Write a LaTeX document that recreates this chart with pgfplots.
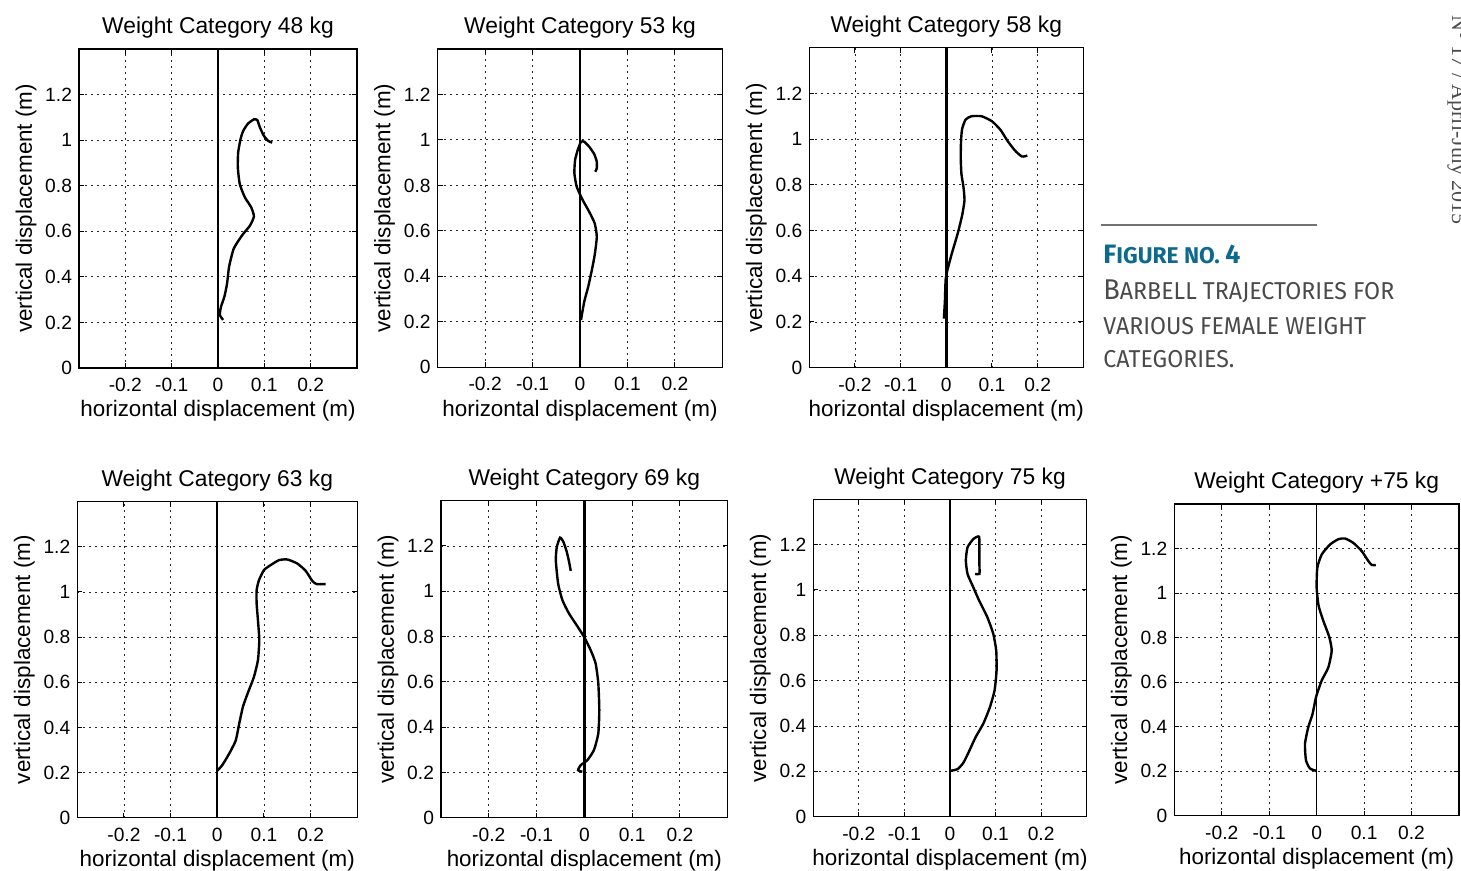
\documentclass[border=0pt]{standalone}
\usepackage{pgfplots}
\pgfplotsset{compat=1.18}
\usepackage{fontspec}
\setmainfont{Liberation Sans}
\newfontfamily\capfont[FakeStretch=0.95]{Fira Sans}
\newfontfamily\capfontb{Fira Sans}
\newfontfamily\sidefont{Liberation Serif}
\definecolor{figteal}{HTML}{0E6A8C}
\definecolor{capgray}{HTML}{4A4A4A}
\newcommand\bigc[1]{{\fontsize{14.3}{16}\selectfont #1}}
\newcommand\bigb[1]{{\fontsize{13.3}{16}\selectfont #1}}

\pgfplotsset{
  wplot/.style={
    scale only axis, anchor=south west,
    xmin=-0.3, xmax=0.3, ymin=0, ymax=1.4,
    xtick={-0.2,-0.1,0,0.1,0.2}, xticklabels={-0.2,-0.1,0,0.1,0.2},
    ytick={0,0.2,0.4,0.6,0.8,1,1.2}, yticklabels={0,0.2,0.4,0.6,0.8,1,1.2},
    grid=major, major grid style={black!85, line width=0.45pt, dash pattern=on 0.9pt off 2.1pt},
    axis line style={black, line width=0.6pt},
    tick align=inside, major tick length=2.5pt, tick style={black, line width=0.5pt},
    ticklabel style={font=\fontsize{9.6}{11}\selectfont},
    xticklabel style={yshift=-1.5pt},
    label style={font=\fontsize{11.2}{13}\selectfont},
    xlabel={horizontal displacement (m)}, ylabel={vertical displacement (m)},
    xlabel style={at={([yshift=-21.5pt]axis description cs:0.5,0)}, anchor=center},
    ylabel style={at={([xshift=-26.5pt]axis description cs:0,0.5)}, anchor=center},
    title style={font=\fontsize{11.4}{13}\selectfont, at={([yshift=4.5pt]axis description cs:0.5,1)}, anchor=center},
  },
  zero/.style={black, line width=1.2pt},
  traj/.style={black, line width=1.2pt, smooth, tension=0.35},
}

\begin{document}
\begin{tikzpicture}
\useasboundingbox (0,0) rectangle (730.5pt,435.5pt);

% top row
\begin{axis}[wplot, at={(39.5pt,251.5pt)}, width=139pt, height=159.5pt, title={Weight Category 48 kg}]
\addplot[zero] coordinates {(0,0) (0,1.4)};
\addplot[traj] coordinates {(0.011,0.211) (0.004,0.233) (0.0065,0.269) (0.0138,0.313) (0.0196,0.371) (0.0239,0.444) (0.034,0.524) (0.052,0.582) (0.069,0.625) (0.0775,0.665) (0.0717,0.705) (0.058,0.749) (0.047,0.807) (0.0428,0.88) (0.0435,0.945) (0.0486,1.004) (0.0543,1.04) (0.0645,1.072) (0.0775,1.091) (0.0848,1.088) (0.0906,1.055) (0.0993,1.018) (0.1087,0.996) (0.117,0.989)};
\end{axis}

\begin{axis}[wplot, at={(218.85pt,251.85pt)}, width=142.3pt, height=159.15pt, title={Weight Category 53 kg}]
\addplot[zero] coordinates {(0,0) (0,1.4)};
\addplot[traj] coordinates {(0.0021,0.208) (0.009,0.289) (0.0174,0.355) (0.025,0.428) (0.031,0.494) (0.0354,0.574) (0.031,0.633) (0.0194,0.684) (0.0056,0.736) (-0.0069,0.794) (-0.0118,0.853) (-0.0104,0.911) (-0.0049,0.955) (0.0021,0.992) (0.009,0.992) (0.0194,0.970) (0.0299,0.938) (0.0354,0.904) (0.0354,0.875) (0.032,0.860)};
\end{axis}

\begin{axis}[wplot, at={(404.65pt,251.65pt)}, width=137pt, height=160pt, title={Weight Category 58 kg}]
\addplot[zero] coordinates {(0,0) (0,1.4)};
\addplot[traj] coordinates {(-0.0053,0.215) (-0.003,0.295) (-0.0015,0.383) (0.0023,0.426) (0.012,0.499) (0.0248,0.586) (0.0346,0.666) (0.0398,0.732) (0.0376,0.790) (0.0331,0.848) (0.0316,0.921) (0.0323,0.993) (0.0346,1.044) (0.0421,1.085) (0.0549,1.100) (0.0774,1.100) (0.1,1.078) (0.1188,1.040) (0.1338,0.993) (0.1504,0.950) (0.1654,0.924) (0.1774,0.928)};
\end{axis}

% bottom row
\begin{axis}[wplot, at={(38.65pt,26.65pt)}, width=140pt, height=158pt, title={Weight Category 63 kg}]
\addplot[zero] coordinates {(0,0) (0,1.4)};
\addplot[traj] coordinates {(0,0.208) (0.0107,0.233) (0.025,0.282) (0.0393,0.341) (0.0471,0.418) (0.055,0.492) (0.0657,0.554) (0.0786,0.624) (0.0871,0.698) (0.09,0.787) (0.0871,0.875) (0.0843,0.949) (0.0843,1.008) (0.0893,1.052) (0.1,1.097) (0.1143,1.119) (0.1321,1.141) (0.15,1.144) (0.1714,1.126) (0.1893,1.094) (0.2036,1.049) (0.2129,1.035) (0.2321,1.035)};
\end{axis}

\begin{axis}[wplot, at={(220.5pt,26.65pt)}, width=143.35pt, height=158.5pt, title={Weight Category 69 kg}]
\addplot[zero] coordinates {(0,0) (0,1.4)};
\addplot[traj] coordinates {(-0.0042,0.203) (-0.0132,0.210) (-0.0076,0.232) (0.0063,0.254) (0.0201,0.299) (0.0292,0.372) (0.0313,0.475) (0.0292,0.593) (0.0236,0.681) (0.0132,0.740) (-0.0007,0.799) (-0.016,0.85) (-0.0319,0.901) (-0.0458,0.960) (-0.0549,1.034) (-0.0597,1.137) (-0.0576,1.196) (-0.0507,1.237) (-0.0438,1.218) (-0.0368,1.174) (-0.0319,1.129) (-0.0285,1.090)};
\end{axis}

\begin{axis}[wplot, at={(406.65pt,27.15pt)}, width=136.7pt, height=158.7pt, title={Weight Category 75 kg}]
\addplot[zero] coordinates {(0,0) (0,1.4)};
\addplot[traj] coordinates {(0,0.202) (0.0167,0.210) (0.0297,0.239) (0.0413,0.286) (0.0565,0.352) (0.0732,0.411) (0.0877,0.484) (0.0978,0.557) (0.1022,0.645) (0.1014,0.733) (0.0949,0.807) (0.0819,0.880) (0.0638,0.954) (0.0493,1.020) (0.0384,1.071) (0.0348,1.130) (0.0384,1.188) (0.0514,1.225) (0.0638,1.235) (0.0645,1.174) (0.0645,1.115) (0.0645,1.071) (0.0551,1.071)};
\end{axis}

\begin{axis}[wplot, at={(587.15pt,27.65pt)}, width=142.35pt, height=155.85pt, title={Weight Category +75 kg}]
\addplot[black, line width=0.8pt] coordinates {(0,0) (0,1.4)};
\addplot[traj] coordinates {(0,0.201) (-0.0141,0.212) (-0.0225,0.249) (-0.0246,0.323) (-0.0176,0.398) (-0.0085,0.458) (-0.0014,0.532) (0.0106,0.607) (0.0246,0.666) (0.0317,0.741) (0.0268,0.801) (0.0141,0.875) (0.0042,0.942) (0,1.024) (0.0014,1.114) (0.0106,1.173) (0.0282,1.218) (0.0458,1.242) (0.0599,1.245) (0.0775,1.225) (0.0951,1.188) (0.1092,1.143) (0.1162,1.126) (0.1246,1.126)};
\end{axis}

% caption
\draw[black!55, line width=0.8pt] (550.5pt,323pt) -- (658.5pt,323pt);
\node[anchor=base west, inner sep=0, text=figteal, font=\capfontb\bfseries\fontsize{11.4}{14}\selectfont] at (551.5pt,303.8pt) {\bigb{F}IGURE NO. \bigb{4}};
\node[anchor=base west, inner sep=0, text=capgray, font=\capfont\fontsize{12.2}{14}\selectfont] at (551.5pt,285.5pt) {\bigc{B}ARBELL TRAJECTORIES FOR};
\node[anchor=base west, inner sep=0, text=capgray, font=\capfont\fontsize{12.2}{14}\selectfont] at (551.5pt,268pt) {VARIOUS FEMALE WEIGHT};
\node[anchor=base west, inner sep=0, text=capgray, font=\capfont\fontsize{12.2}{14}\selectfont] at (551.5pt,251.6pt) {CATEGORIES.};
% running head at the page edge, cut off as in the page scan
\node[rotate=-90, anchor=base west, inner sep=0, text=black!70, font=\sidefont\fontsize{11}{13}\selectfont] at (726pt,428pt) {N° 17 / April-July 2015};
\end{tikzpicture}
\end{document}
